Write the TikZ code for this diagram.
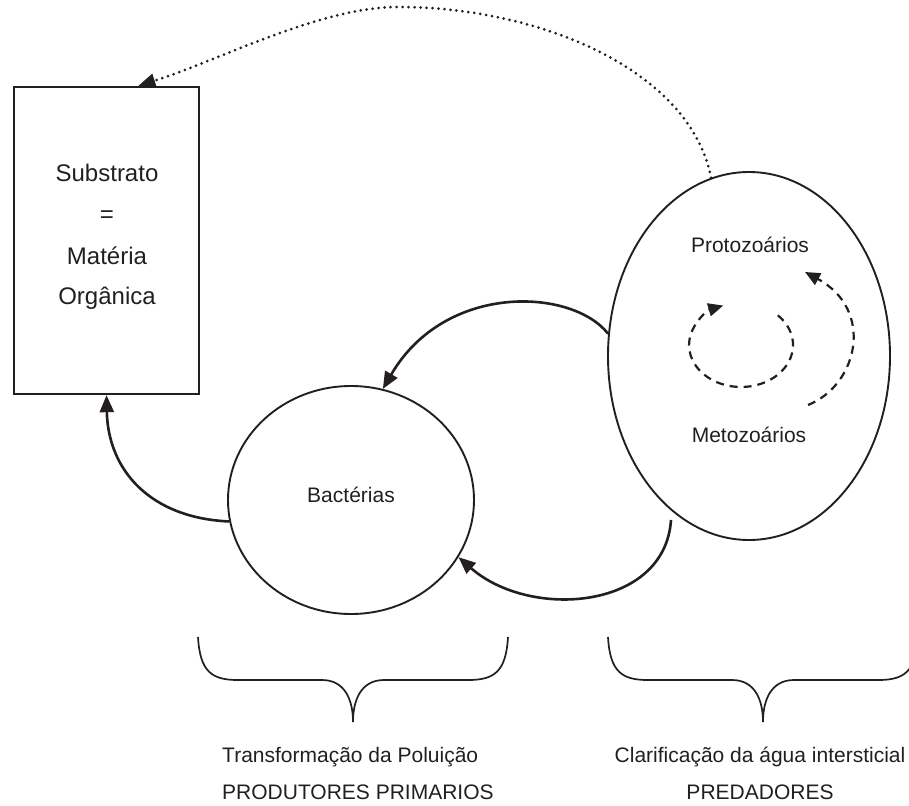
\documentclass[tikz,border=0pt]{standalone}
\usepackage{fontspec}
\setmainfont{Liberation Sans}
\usetikzlibrary{arrows.meta,shapes.geometric,calc}
\definecolor{ink}{HTML}{231F20}
\begin{document}
\begin{tikzpicture}[x=1pt,y=-1pt,
  txt/.style={inner sep=0pt, anchor=base, text=ink, font=\fontsize{21}{25}\selectfont},
  bigtxt/.style={txt, font=\fontsize{24}{28}\selectfont},
  flow/.style={draw=ink, line width=2.6pt, -{Triangle[length=17pt,width=14pt]}},
  cyc/.style={draw=ink, line width=2.2pt, dash pattern=on 8pt off 6pt, -{Triangle[length=15pt,width=13pt]}},
  dots/.style={draw=ink, line width=3pt, line cap=round, dash pattern=on 0pt off 6pt, -{Triangle[length=17pt,width=14pt]}},
  brace/.style={draw=ink, line width=1.7pt},
  ring/.style={draw=ink, ellipse, line width=1.9pt, inner sep=0pt}]
\useasboundingbox (0,0) rectangle (909,805);

% nodes
\node[draw=ink, line width=2.4pt, minimum width=185pt, minimum height=307pt, inner sep=0pt] (sub) at (106.5,240.5) {};
\node[bigtxt] (s1) at (107,182) {Substrato};
\node[bigtxt] (s2) at (107,222) {=};
\node[bigtxt] (s3) at (107,264) {Matéria};
\node[bigtxt] (s4) at (107,304) {Orgânica};

\node[ring, minimum width=246pt, minimum height=228pt] (bac) at (351,500) {};
\node[txt] (bact) at (351,502) {Bactérias};

\node[ring, minimum width=282pt, minimum height=368pt] (big) at (749,356) {};
\node[txt] (prot) at (750,252) {Protozoários};
\node[txt] (meto) at (749,442) {Metozoários};

% connectors
\coordinate (peak) at (398,7);
\coordinate (lowstart) at (671,520);
\draw[dots] (big.102) .. controls (690,70) and (540,7) .. (peak)
  .. controls (320,7) and (220,60) .. ($(sub.north west)!0.67!(sub.north east)$);
\draw[flow] (bac.190) .. controls (150,518) and (108,470) .. (sub.south);
\draw[flow] (big.171) .. controls (572,288) and (445,282) .. (bac.74);
\draw[flow] (lowstart) .. controls (665,610) and (530,620) .. (bac.-28);

% cycles inside the predator ellipse
\draw[cyc] (777.8,315.3) arc[start angle=-45, end angle=250, x radius=52, y radius=42];
\draw[cyc] (808,405) .. controls (858,385) and (875,310) .. (805,272);

% braces
\draw[brace] (198,637) .. controls (200,672) and (212,680) .. (238,680) -- (322,680)
  .. controls (345,680) and (353,700) .. (353,722)
  .. controls (353,700) and (361,680) .. (384,680) -- (468,680)
  .. controls (494,680) and (506,672) .. (508,637);
\draw[brace] (608,637) .. controls (610,672) and (622,680) .. (648,680) -- (732,680)
  .. controls (755,680) and (763,700) .. (763,722)
  .. controls (763,700) and (771,680) .. (794,680) -- (878,680)
  .. controls (904,680) and (916,672) .. (918,637);

% bottom labels
\node[txt, anchor=base west] (l1) at (222,762) {Transformação da Poluição};
\node[txt, anchor=base west] (l2) at (222,799) {PRODUTORES PRIMARIOS};
\node[txt] (r1) at (760,762) {Clarificação da água intersticial};
\node[txt] (r2) at (760,799) {PREDADORES};
\end{tikzpicture}
\end{document}
